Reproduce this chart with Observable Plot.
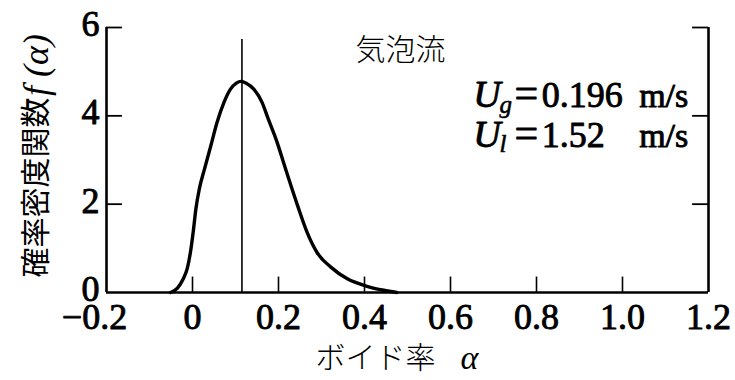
<!DOCTYPE html>
<html>
<head>
<meta charset="utf-8">
<script src="https://cdn.jsdelivr.net/npm/d3@7"></script>
<script src="https://cdn.jsdelivr.net/npm/@observablehq/plot@0.6"></script>
<style>
  html, body { margin: 0; padding: 0; background: white; }
</style>
</head>
<body>
<div id="chart"></div>
<script>
// ---- data ----
const xTicks = [-0.2, 0, 0.2, 0.4, 0.6, 0.8, 1.0, 1.2];
const xTickLabels = ["−0.2", "0", "0.2", "0.4", "0.6", "0.8", "1.0", "1.2"];
const yTicks = [0, 2, 4, 6];
const alpha   = [-0.051, -0.035, -0.022, -0.012, -0.005, 0.002, 0.008, 0.016, 0.028, 0.042, 0.057, 0.073, 0.088, 0.102, 0.113, 0.125, 0.143, 0.162, 0.175, 0.195, 0.218, 0.245, 0.267, 0.290, 0.321, 0.360, 0.406, 0.445, 0.475];
const density = [0, 0.10, 0.30, 0.55, 0.90, 1.40, 1.90, 2.35, 2.80, 3.30, 3.85, 4.30, 4.60, 4.74, 4.78, 4.74, 4.60, 4.30, 3.96, 3.45, 2.75, 1.95, 1.35, 0.90, 0.58, 0.31, 0.14, 0.05, 0];
const meanAlpha = [0.115];
const meanLineTop = 5.73;
const flowRegime = ["気泡流"];
const paramSymbols = ["g", "l"];
const paramValues = ["0.196", "1.52"];
const paramUnit = "m/s";
const xLabel = ["ボイド率"];
const xLabelSymbol = ["α"];
const yLabel = ["確率密度関数"];
const yLabelSymbol = ["f (α)"];

const curve = alpha.map((a, i) => ({alpha: a, f: density[i]}));

const serif = "'Liberation Serif', 'DejaVu Serif', serif";
const cjk = "'Noto Sans CJK JP', sans-serif";
const xMin = xTicks[0], xMax = xTicks[xTicks.length - 1];
const yMax = yTicks[yTicks.length - 1];
const tickLenX = 0.037, tickLenY = 0.35;
const axisText = {fontFamily: serif, fontSize: 36, textStroke: "black", textStrokeWidth: 0.9};
const thick = {fill: "black", stroke: "black", strokeWidth: 0.9};

const chart = Plot.plot({
  width: 735,
  height: 380,
  marginLeft: 106,
  marginRight: 27,
  marginTop: 27,
  marginBottom: 88,
  x: {domain: [xMin, xMax]},
  y: {domain: [0, yMax]},
  style: {background: "white", color: "black"},
  marks: [
    Plot.axisX(xTicks.slice(1), {tickSize: 0, tickPadding: 11, ...axisText,
      tickFormat: d => xTickLabels[xTicks.indexOf(d)], label: null}),
    Plot.axisX(xTicks.slice(0, 1), {tickSize: 0, tickPadding: 11, ...axisText, dx: -12,
      tickFormat: d => xTickLabels[xTicks.indexOf(d)], label: null}),
    Plot.axisY(yTicks, {tickSize: 0, tickPadding: 7, ...axisText, dy: -3, label: null}),
    // frame: left, right, bottom
    Plot.ruleX([xMin, xMax], {y1: 0, y2: yMax, stroke: "black", strokeWidth: 2.6}),
    Plot.ruleY([0], {x1: xMin, x2: xMax, stroke: "black", strokeWidth: 2.6}),
    // inward ticks
    Plot.ruleY(yTicks.slice(1), {x1: xMin, x2: xMin + tickLenX, stroke: "black", strokeWidth: 1.8}),
    Plot.ruleY(yTicks.slice(1), {x1: xMax - tickLenX, x2: xMax, stroke: "black", strokeWidth: 1.8}),
    Plot.ruleX(xTicks.slice(1, -1), {y1: 0, y2: tickLenY, stroke: "black", strokeWidth: 1.6}),
    // mean line
    Plot.ruleX(meanAlpha, {y1: 0, y2: meanLineTop, stroke: "black", strokeWidth: 1.6}),
    // PDF curve
    Plot.line(curve, {x: "alpha", y: "f", curve: "monotone-x", stroke: "black", strokeWidth: 3.4}),
    // annotations
    Plot.text(flowRegime, {x: 0.484, y: 5.48, text: d => d, fontSize: 30, fontFamily: cjk, fontWeight: 300, lineAnchor: "middle", textAnchor: "middle"}),
    Plot.text(paramSymbols, {x: 0.653, y: (d, i) => 4.19 - i * 0.89, text: () => "U", fontSize: 38, fontFamily: serif, fontStyle: "italic", ...thick, lineAnchor: "bottom", textAnchor: "start"}),
    Plot.text(paramSymbols, {x: 0.714, y: (d, i) => 4.19 - i * 0.89 - 0.13, text: d => d, fontSize: 25, fontFamily: serif, fontStyle: "italic", ...thick, strokeWidth: 0.6, lineAnchor: "bottom", textAnchor: "start"}),
    Plot.text(paramValues, {x: 0.749, y: (d, i) => 4.19 - i * 0.89, text: () => "=", fontSize: 42, fontFamily: serif, ...thick, lineAnchor: "bottom", textAnchor: "start"}),
    Plot.text(paramValues, {x: 0.812, y: (d, i) => 4.19 - i * 0.89, text: d => d, fontFamily: serif, fontSize: 36, ...thick, lineAnchor: "bottom", textAnchor: "start"}),
    Plot.text(paramValues, {x: 1.153, y: (d, i) => 4.19 - i * 0.89, text: () => paramUnit, fontFamily: serif, fontSize: 34, ...thick, lineAnchor: "bottom", textAnchor: "end"}),
    Plot.text(xLabel, {x: 0.286, y: -1.49, text: d => d, fontSize: 30, fontFamily: cjk, fontWeight: 300, lineAnchor: "middle", textAnchor: "start"}),
    Plot.text(xLabelSymbol, {x: 0.623, y: -1.49, text: d => d, fontSize: 34, fontFamily: serif, fontStyle: "italic", lineAnchor: "middle", textAnchor: "start"}),
    Plot.text(yLabel, {x: -0.363, y: 0.34, text: d => d, rotate: -90, fontSize: 30, fontFamily: cjk, fontWeight: 400, lineAnchor: "middle", textAnchor: "start"}),
    Plot.text(yLabelSymbol, {x: -0.363, y: 4.45, text: d => d, rotate: -90, fontSize: 36, fontFamily: serif, fontStyle: "italic", lineAnchor: "middle", textAnchor: "start"})
  ]
});
document.getElementById("chart").appendChild(chart);
</script>
</body>
</html>
